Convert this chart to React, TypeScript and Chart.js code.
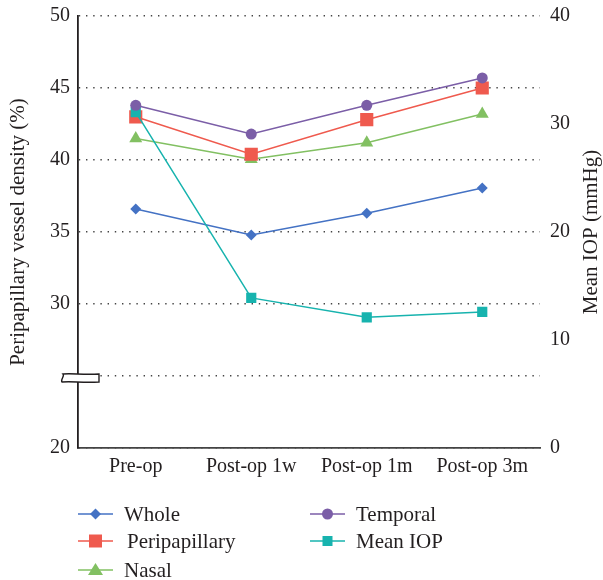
import React, { useEffect, useRef } from "react";
import { Chart, registerables } from "chart.js";

Chart.register(...registerables);

const categories = ["Pre-op", "Post-op 1w", "Post-op 1m", "Post-op 3m"];
const whole = [36.6, 34.8, 36.3, 38.05];
const peripapillary = [43.0, 40.4, 42.8, 45.0];
const nasal = [41.5, 40.05, 41.2, 43.2];
const temporal = [43.8, 41.8, 43.8, 45.7];
const meanIOP = [31.1, 13.9, 12.1, 12.6];

const densityMin = 20;
const densityMax = 50;
const densityStep = 5;
const breakValue = 25;
const iopMin = 0;
const iopMax = 40;
const iopStep = 10;

const leftTitle = "Peripapillary vessel density (%)";
const rightTitle = "Mean IOP (mmHg)";

const FONT = "'Liberation Serif', 'Times New Roman', serif";
const TEXT = "#231f20";

const COLORS = {
  whole: "#4472c4",
  peri: "#ef5a4e",
  nasal: "#82c062",
  temporal: "#7b5ea7",
  iop: "#17b3ae",
};

const legendItems = [
  { label: "Whole", color: COLORS.whole, shape: "diamond", col: 0, row: 0 },
  { label: "Peripapillary", color: COLORS.peri, shape: "bigsquare", col: 0, row: 1 },
  { label: "Nasal", color: COLORS.nasal, shape: "triangle", col: 0, row: 2 },
  { label: "Temporal", color: COLORS.temporal, shape: "circle", col: 1, row: 0 },
  { label: "Mean IOP", color: COLORS.iop, shape: "square", col: 1, row: 1 },
];

function drawMarker(ctx: CanvasRenderingContext2D, shape: string, x: number, y: number, color: string) {
  ctx.fillStyle = color;
  ctx.beginPath();
  if (shape === "diamond") {
    const r = 5.5;
    ctx.moveTo(x, y - r);
    ctx.lineTo(x + r, y);
    ctx.lineTo(x, y + r);
    ctx.lineTo(x - r, y);
    ctx.closePath();
  } else if (shape === "bigsquare") {
    ctx.rect(x - 6.5, y - 6.5, 13, 13);
  } else if (shape === "square") {
    ctx.rect(x - 5, y - 5, 10, 10);
  } else if (shape === "circle") {
    ctx.arc(x, y, 5.5, 0, Math.PI * 2);
  } else if (shape === "triangle") {
    ctx.moveTo(x, y - 7);
    ctx.lineTo(x + 7.5, y + 5);
    ctx.lineTo(x - 7.5, y + 5);
    ctx.closePath();
  }
  ctx.fill();
}

const legendPlugin = {
  id: "customLegend",
  afterDraw(chart: any) {
    const ctx = chart.ctx as CanvasRenderingContext2D;
    ctx.save();
    const colX = [78, 310];
    const rowY = [514, 541, 570];
    ctx.font = `21px ${FONT}`;
    ctx.textBaseline = "middle";
    ctx.textAlign = "left";
    legendItems.forEach((it) => {
      const x = colX[it.col];
      const y = rowY[it.row];
      ctx.strokeStyle = it.color;
      ctx.lineWidth = 1.5;
      ctx.beginPath();
      ctx.moveTo(x, y);
      ctx.lineTo(x + 35, y);
      ctx.stroke();
      drawMarker(ctx, it.shape, x + 17.5, y, it.color);
      ctx.fillStyle = TEXT;
      ctx.fillText(it.label, x + (it.shape === "bigsquare" ? 49 : 46), y + 1);
    });
    ctx.restore();
  },
};

const titlesPlugin = {
  id: "axisTitles",
  afterDraw(chart: any) {
    const ctx = chart.ctx as CanvasRenderingContext2D;
    const { top, bottom } = chart.chartArea;
    const cy = (top + bottom) / 2;
    ctx.save();
    ctx.font = `21px ${FONT}`;
    ctx.fillStyle = TEXT;
    ctx.textAlign = "center";
    ctx.textBaseline = "middle";
    ctx.translate(18, cy);
    ctx.rotate(-Math.PI / 2);
    ctx.fillText(leftTitle, 0, 0);
    ctx.restore();
    ctx.save();
    ctx.font = `21px ${FONT}`;
    ctx.fillStyle = TEXT;
    ctx.textAlign = "center";
    ctx.textBaseline = "middle";
    ctx.translate(591, cy);
    ctx.rotate(-Math.PI / 2);
    ctx.fillText(rightTitle, 0, 0);
    ctx.restore();
  },
};

const breakPlugin = {
  id: "axisBreak",
  afterDraw(chart: any) {
    const ctx = chart.ctx as CanvasRenderingContext2D;
    const y = chart.scales.y.getPixelForValue(breakValue) + 2;
    const left = chart.chartArea.left;
    const x0 = left - 16;
    const x1 = left + 21;
    ctx.save();
    ctx.beginPath();
    ctx.moveTo(x0 + 1, y - 4);
    ctx.bezierCurveTo(x0 + 10, y - 5, x0 + 20, y - 3, x1, y - 4);
    ctx.lineTo(x1, y + 4);
    ctx.bezierCurveTo(x0 + 20, y + 5, x0 + 10, y + 3, x0, y + 4);
    ctx.bezierCurveTo(x0 - 2, y + 2, x0 + 3, y - 2, x0 + 1, y - 4);
    ctx.closePath();
    ctx.fillStyle = "#ffffff";
    ctx.fill();
    ctx.strokeStyle = "#231f20";
    ctx.lineWidth = 1.4;
    ctx.stroke();
    ctx.restore();
  },
};

export default function App() {
  const ref = useRef<HTMLCanvasElement | null>(null);

  useEffect(() => {
    if (!ref.current) return;
    const ds = (label: string, data: number[], color: string, pointStyle: any, radius: number, axis = "y") => ({
      label,
      data,
      borderColor: color,
      backgroundColor: color,
      borderWidth: 1.5,
      pointStyle,
      pointRadius: radius,
      pointHoverRadius: radius,
      pointBorderWidth: 0,
      yAxisID: axis,
      tension: 0,
    });
    const chart = new Chart(ref.current, {
      type: "line",
      data: {
        labels: categories,
        datasets: [
          ds("Temporal", temporal, COLORS.temporal, "circle", 5.5),
          ds("Mean IOP", meanIOP, COLORS.iop, "rect", 7.2, "y1"),
          ds("Peripapillary", peripapillary, COLORS.peri, "rect", 9.3),
          ds("Nasal", nasal, COLORS.nasal, "triangle", 7.5),
          ds("Whole", whole, COLORS.whole, "rectRot", 5.5),
        ],
      },
      options: {
        responsive: false,
        animation: false,
        events: [],
        layout: { padding: { top: 16, left: 0, right: 0, bottom: 0 } },
        plugins: {
          legend: { display: false },
          tooltip: { enabled: false },
        },
        scales: {
          x: {
            offset: true,
            grid: { display: false, drawTicks: false },
            border: { display: true, color: "#444444", width: 1.8 },
            ticks: {
              color: TEXT,
              font: { family: FONT, size: 20 },
              padding: 7,
              maxRotation: 0,
            },
            afterFit(scale: any) {
              scale.height = 132;
              scale.paddingLeft = 0;
              scale.paddingRight = 0;
            },
          },
          y: {
            position: "left",
            min: densityMin,
            max: densityMax,
            grid: {
              display: true,
              drawTicks: false,
              color: "#444444",
              lineWidth: 1.4,
            },
            border: { display: true, color: "#231f20", width: 1.8, dash: [1.4, 5.8] },
            ticks: {
              stepSize: densityStep,
              color: TEXT,
              font: { family: FONT, size: 20 },
              padding: 8,
              callback: (v: any) => (Number(v) === breakValue ? "" : String(v)),
            },
            afterFit(scale: any) {
              scale.width = 78;
              scale.paddingTop = 0;
              scale.paddingBottom = 0;
            },
          },
          y1: {
            position: "right",
            min: iopMin,
            max: iopMax,
            grid: { display: false, drawTicks: false },
            border: { display: false },
            ticks: {
              stepSize: iopStep,
              color: TEXT,
              font: { family: FONT, size: 20 },
              padding: 10,
            },
            afterFit(scale: any) {
              scale.width = 63;
              scale.paddingTop = 0;
              scale.paddingBottom = 0;
            },
          },
        },
      } as any,
      plugins: [breakPlugin, titlesPlugin, legendPlugin],
    });
    return () => chart.destroy();
  }, []);

  return (
    <div style={{ position: "absolute", left: 0, top: 0, width: 603, height: 580, background: "#fff" }}>
      <canvas ref={ref} width={603} height={580} style={{ display: "block" }} />
    </div>
  );
}
